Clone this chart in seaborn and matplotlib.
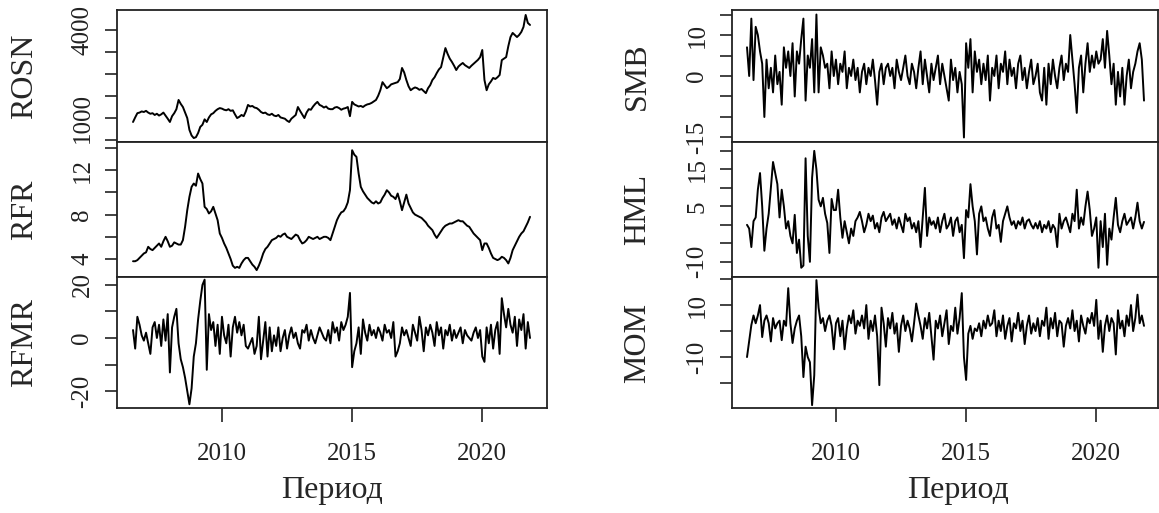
import numpy as np
import pandas as pd
import matplotlib
matplotlib.use("Agg")
import matplotlib.pyplot as plt
import matplotlib.ticker as mticker
import seaborn as sns

# monthly observations, Aug 2006 .. Nov 2021
months = pd.date_range("2006-08-01", "2021-11-01", freq="MS")

rosn = [940, 1010, 1080, 1090, 1110,
        1100, 1120, 1090, 1070, 1080, 1050, 1070, 1040, 1060, 1090, 1040, 990,
        940, 1030, 1080, 1150, 1330, 1250, 1190, 1090, 1000, 830, 760, 730,
        740, 790, 870, 900, 980, 940, 1010, 1060, 1080, 1120, 1150, 1170,
        1160, 1140, 1130, 1150, 1120, 1130, 1060, 1000, 1020, 1050, 1030, 1110,
        1230, 1200, 1210, 1180, 1170, 1140, 1100, 1080, 1090, 1060, 1050, 1070,
        1040, 1030, 1050, 1010, 1000, 990, 960, 940, 990, 1020, 1050, 1190,
        1120, 1060, 1000, 1090, 1150, 1140, 1200, 1250, 1290, 1230, 1210, 1180,
        1200, 1160, 1150, 1150, 1180, 1190, 1170, 1140, 1160, 1170, 1190, 1030,
        1290, 1240, 1220, 1200, 1210, 1190, 1220, 1240, 1250, 1270, 1300, 1330,
        1420, 1550, 1760, 1680, 1600, 1640, 1700, 1720, 1740, 1760, 1850, 2200,
        2050, 1820, 1650, 1550, 1590, 1620, 1600, 1560, 1580, 1530, 1480, 1600,
        1680, 1820, 1900, 2030, 2150, 2230, 2600, 3010, 2750, 2550, 2420, 2280,
        2130, 2250, 2320, 2380, 2300, 2250, 2200, 2280, 2350, 2420, 2500, 2610,
        2920, 1820, 1550, 1700, 1780, 1880, 1850, 1900, 1970, 2490, 2550, 2610,
        3100, 3580, 3820, 3700, 3580, 3700, 3880, 4200, 5070, 4470, 4330]

rfr = [3.8, 3.8, 3.9, 4.1, 4.3,
       4.5, 4.6, 5.1, 4.9, 4.8, 5.0, 5.2, 5.4, 5.1, 5.6, 6.0, 5.6,
       5.1, 5.2, 5.5, 5.4, 5.3, 5.3, 5.7, 6.9, 8.4, 9.6, 10.5, 10.8,
       10.6, 11.7, 11.2, 10.8, 8.7, 8.5, 8.1, 8.3, 8.7, 8.1, 7.5, 6.3,
       5.9, 5.4, 5.0, 4.5, 4.0, 3.4, 3.2, 3.3, 3.2, 3.6, 3.9, 4.1,
       4.1, 3.8, 3.5, 3.3, 3.0, 3.4, 3.9, 4.5, 4.9, 5.1, 5.4, 5.7,
       5.8, 5.9, 6.1, 6.0, 6.2, 6.3, 6.0, 5.9, 5.8, 6.0, 6.2, 6.1,
       5.7, 5.4, 5.5, 5.7, 6.0, 5.9, 5.8, 5.9, 6.0, 5.8, 5.9, 6.0,
       6.0, 5.9, 5.7, 6.3, 6.9, 7.5, 7.9, 8.2, 8.3, 8.6, 9.1, 10.2,
       13.8, 13.4, 13.2, 11.7, 10.5, 10.1, 9.8, 9.5, 9.3, 9.1, 9.0, 9.2,
       9.0, 9.1, 9.5, 9.8, 10.2, 10.0, 9.7, 9.6, 9.4, 9.9, 9.2, 8.4,
       9.1, 9.8, 9.0, 8.6, 8.2, 8.0, 7.9, 7.8, 7.7, 7.5, 7.3, 7.0,
       6.8, 6.6, 6.2, 5.9, 6.2, 6.5, 6.8, 7.0, 7.1, 7.2, 7.2, 7.3,
       7.4, 7.5, 7.4, 7.4, 7.2, 7.0, 6.9, 6.6, 6.3, 6.1, 5.9, 5.7,
       4.8, 5.4, 5.4, 5.0, 4.5, 4.1, 4.0, 3.9, 4.0, 4.2, 4.1, 3.9,
       3.6, 4.1, 4.8, 5.2, 5.6, 6.0, 6.3, 6.5, 6.9, 7.3, 7.8]

rfmr = [3, -4, 8, 5, 1,
        -1, 2, -2, -6, 4, 6, 0, 5, -3, 7, -1, 9,
        -13, 4, 8, 11, -2, -8, -11, -15, -20, -25, -19, -7,
        -2, 7, 14, 20, 22, -12, 9, 3, 6, -3, 5, -6,
        8, 1, -2, 5, -7, 4, 8, 2, 6, 1, 5, -3,
        -4, -2, 0, -6, -3, 8, -8, -1, 6, -7, 4, -5,
        1, -3, 4, -5, 0, 3, -4, 1, 4, 0, 2, -2,
        -4, 3, 2, 5, -1, 3, 0, -2, 1, 4, 2, 0,
        -1, 3, -2, 6, 2, 4, -1, 6, 3, 5, 8, 17,
        -11, -5, -2, 4, -6, 7, 2, -1, 5, 1, 3, 0,
        4, 2, -1, 5, 2, 3, 0, 6, -7, -5, -2, 4,
        1, 3, 0, -3, 5, 2, -1, 8, 3, -5, 4, 1,
        5, 2, -3, 6, 1, 4, -4, 3, 1, 5, -1, 3,
        0, 2, 4, -2, 3, 1, 0, -1, 2, 4, 0, 3,
        -7, -9, 4, -2, 5, -4, 3, 6, -6, 15, 9, 4,
        11, 5, 2, 8, -3, 7, 3, 9, -4, 6, 0]

smb = [7, 0, 14, -1, 12,
       10, 6, 3, -10, 4, -3, 2, -4, 5, -2, 1, -7,
       7, 2, 6, 0, 8, -5, 6, 3, 9, 14, -6, 5,
       2, 9, -4, 15, -4, 7, 5, 2, 3, -3, 6, 0,
       4, -2, 3, 1, 6, -3, 2, 0, 4, -1, 2, -4,
       1, 3, -2, 2, 0, 4, -1, -7, 1, 3, -2, 2,
       3, 0, 2, -3, 4, 1, -1, 2, 5, 0, -2, 3,
       1, -3, 2, 6, -2, 4, 0, -4, 3, -1, 2, 5,
       -2, 3, 0, -3, -6, 4, -1, 2, -4, 1, -2, -15,
       8, 2, 9, -4, 6, 1, 4, -2, 3, -1, 5, -6,
       2, 0, 5, -3, 3, 1, 6, -2, 4, 0, 2, -3,
       3, 5, -1, 2, -3, 1, 4, -2, 0, 3, -4, -6,
       2, -7, 3, -2, 4, 0, -3, 2, 5, -1, 3, 1,
       10, 4, -2, -9, 2, 5, -4, 3, 8, 1, 5, 2,
       6, 3, 4, 9, 2, 11, 5, -2, 3, -7, 1, -5,
       2, -7, 0, 4, -3, 1, 3, 6, 8, 4, -6]

hml = [0, -1, -6, 1, 2,
       9.5, 14, 5, -7, -1, 3, 10, 17, 14, 11, 2, 9.5,
       5, -1, 1, -3, -5, 2.7, -7.6, -4, -11.6, -11, 18, -3,
       -10, 12.7, 20, 15, 6.8, 5, 7.3, 3, 0.5, -7.6, 7, 4,
       4, 9.5, 2, -3.5, 1, -2, -5, -1, -3, 1, 2, 3.5,
       1, -2, 0, 3, 1, 2.5, -1, 0.5, -2, 2, 3.5, 1,
       2, 3, 0, 1.5, -1, 2, 0, -2, 3, 1, 2, -1,
       0.5, -2, 1, -6, 2, 10, -3, 2, 0, 1, -1, 2,
       -2, 1, 3, -1, 0, 2, -3, 1, 2, -2, 0, -9,
       4, 2, 11, 5, 1, -8, 3, 5, 1, 2, -1, -3,
       2, 4, -1, 0, -4.6, 1, 3, 5, 2, 0, 1, -1,
       1, 0, 2, -1, 1, 1.5, 0, -1, 0.5, -1, 1, -2,
       0, -1, 1, -2, 0, -1, -6, 3, -1, 1, 2, 0,
       -2, 3, 1, 9.5, -1, 2, 0, 5, 9, 4, -3, -1,
       2, -11.6, 1, -6, 3, -10.8, -1, -4, 2, 7.3, 0, -2,
       1, 3, 0, 1, 2, -1, 2, 6, 1, -1, 0.8]

mom = [-10, -4, 2.3, 6, 3,
       6, 10, -2.3, 4, 6, 3, -4, 5, 1, 3, 4, -3.5,
       4, 2, 16.5, 3, -4.6, 1, 4, 6, -2, -17.7, -6, -10,
       -12, -28.5, -17, 19.6, 9, 3, 5, 0, 4, 6, 2, -7,
       3, 5, -2, 4, -7, 1, 6, 3, 8, -1, 4, 2,
       6, 1, 10, -3, 4, 0, 6, -2, -20.8, 9, 3, -6,
       5, 1, 7, -1, 3, -8, 2, 6, 0, 4, 1, -4,
       3, 10.6, 6, 2, -3, 5, 1, 7, -2, -11, 4, 1,
       6, -2, 3, 8, -5, 2, 0, 9, -1, 5, 14.6, -10,
       -18.8, -1, 2, -3, 1, 0, 3, -2, 4, 1, 6, 2,
       3, 8, -2, 4, 0, 6, -3, 2, 5, -4, 3, 1,
       7, 0, 4, -5, 2, 6, -1, 3, 0, 5, -2, 4,
       2, 9, -3, 5, 1, 7, -2, 4, 3, -6, 2, 5,
       1, 8, 0, 4, -4, 6, 2, -1, 5, 3, 7, 2,
       12, -3, 4, -8, 2, 6, 0, 5, 3, -9, 8, 1,
       4, -2, 6, 2, 10, 0, 5, 14, 3, 6, 2]

years = np.asarray(months.year + (months.month - 1) / 12.0)

sns.set_style("white")
plt.rcParams["font.family"] = ["Liberation Serif", "DejaVu Serif"]

W, H = 1159, 513
fig = plt.figure(figsize=(W / 100, H / 100), dpi=100)

def add_px_axes(x0, x1, y0, y1):
    return fig.add_axes([x0 / W, 1 - y1 / H, (x1 - x0) / W, (y1 - y0) / H])

rows = [(10, 142), (142, 277), (277, 408)]
cols = {"left": (117, 547), "right": (732, 1158)}
xlims = {"left": (2005.968, 2022.486), "right": (2006.007, 2022.371)}
ylab_x = {"left": -0.214, "right": -0.221}
xlab_x = {"left": 0.5, "right": 0.53}

panels = [
    ("left", 0, "ROSN", rosn, (686, 5480), [707, 1000, 1414, 2000, 2828, 4000],
     ["", "1000", "", "", "", "4000"], True),
    ("left", 1, "RFR", rfr, (2.38, 14.54), [4, 6, 8, 10, 12, 14],
     ["4", "", "8", "", "12", ""], False),
    ("left", 2, "RFMR", rfmr, (-26.4, 23.0), [-20, -10, 0, 10, 20],
     ["-20", "", "0", "", "20"], False),
    ("right", 0, "SMB", smb, (-16.1, 16.1), [-15, -10, -5, 0, 5, 10, 15],
     ["-15", "", "", "0", "", "10", ""], False),
    ("right", 1, "HML", hml, (-14.1, 22.4), [-10, -5, 0, 5, 10, 15, 20],
     ["-10", "", "", "5", "", "15", ""], False),
    ("right", 2, "MOM", mom, (-29.6, 20.8), [-30, -20, -10, 0, 10, 20],
     ["-30", "", "-10", "", "10", ""], False),
]

for side, r, name, vals, ylim, yt, ytl, logy in panels:
    assert len(vals) == len(years)
    x0, x1 = cols[side]
    y0, y1 = rows[r]
    ax = add_px_axes(x0, x1, y0, y1)
    sns.lineplot(x=years, y=vals, ax=ax, color="black", linewidth=1.4)
    if logy:
        ax.set_yscale("log", base=2)
    ax.set_xlim(*xlims[side])
    ax.set_ylim(*ylim)
    ax.yaxis.set_major_locator(mticker.FixedLocator(yt))
    ax.yaxis.set_minor_locator(mticker.NullLocator())
    ax.set_yticklabels(ytl, rotation=90, va="center", fontsize=18)
    ax.tick_params(axis="y", direction="out", left=True, length=9, width=1.2,
                   pad=8, colors="#222222")
    for sp in ax.spines.values():
        sp.set_linewidth(1.3)
        sp.set_color("#222222")
    ax.set_ylabel(name, fontsize=23, va="center")
    ax.yaxis.set_label_coords(ylab_x[side], 0.5)
    if r == 2:
        ax.set_xticks([2010, 2015, 2020])
        ax.set_xticklabels(["2010", "2015", "2020"], fontsize=18)
        ax.tick_params(axis="x", direction="out", bottom=True, length=10,
                       width=1.2, pad=15, colors="#222222")
        ax.set_xlabel("Период", fontsize=23, va="center")
        ax.xaxis.set_label_coords(xlab_x[side], -0.626)
    else:
        ax.set_xticks([])
        ax.set_xlabel("")

fig.savefig("out.png", dpi=100)
